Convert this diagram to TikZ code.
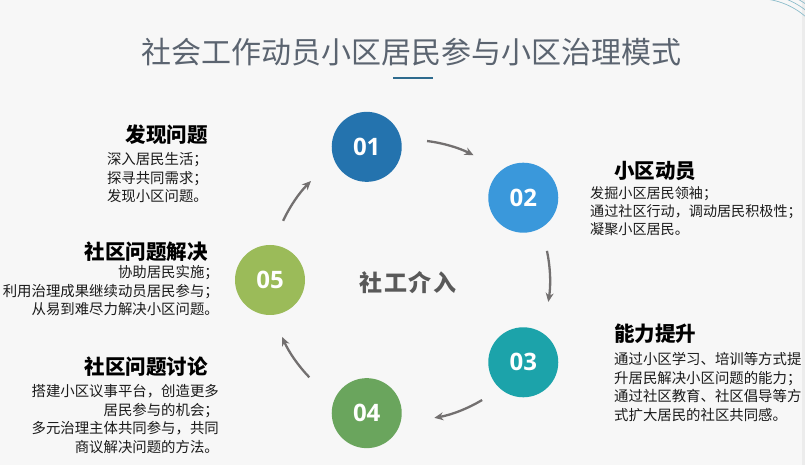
\documentclass[tikz,border=0pt]{standalone}
\usepackage{fontspec}
\setmainfont{Noto Sans CJK SC}
\newfontfamily\numfont{Open Sans}
\usepackage{xcolor}
\usepackage{tikz}
\usetikzlibrary{arrows.meta}
\usetikzlibrary{calc}
\definecolor{bgray}{HTML}{F7F7F7}
\definecolor{edgegray}{HTML}{ECECEC}
\definecolor{titlegray}{HTML}{5B6470}
\definecolor{linkblue}{HTML}{2E6B8E}
\definecolor{arrgray}{HTML}{737070}
\definecolor{midgray}{HTML}{595959}
\definecolor{txtgray}{HTML}{1A1A1A}
\definecolor{decoteal}{HTML}{8DBDCB}
\definecolor{cone}{HTML}{2473AE}
\definecolor{ctwo}{HTML}{3A98DB}
\definecolor{cthree}{HTML}{1CA3AA}
\definecolor{cfour}{HTML}{6AA55D}
\definecolor{cfive}{HTML}{9BBB59}
\tikzstyle{stage}=[circle, inner sep=0pt, minimum size=70pt, text=white,% numbered disc
font=\numfont\bfseries\fontsize{24}{24}\selectfont]
\tikzstyle{head}=[inner sep=0pt, text=black, font=\bfseries\fontsize{20.5}{24}\selectfont]
\tikzstyle{body}=[inner sep=0pt, text=txtgray, font=\fontsize{14.4}{18.5}\selectfont]
\tikzstyle{flow}=[-{Stealth[length=9pt,width=8pt]}, line width=2.3pt, draw=arrgray]

\begin{document}
\begin{tikzpicture}[x=1pt,y=1pt]

\fill[bgray] (0,0) rectangle (805,465);
\fill[edgegray] (802,0) rectangle (805,465);
\useasboundingbox (0,0) rectangle (805,465);

% corner ornament
\begin{scope}
\clip (765,420) rectangle (805,465);
\draw[decoteal, line width=0.7pt] (757,392.5) circle[radius=74];
\draw[decoteal, line width=0.7pt] (757,392.5) circle[radius=79];
\draw[decoteal, line width=0.7pt] (757,392.5) circle[radius=84];
\end{scope}

\node[text=titlegray, font=\fontsize{30}{30}\selectfont] (title) at (411,413) {社会工作动员小区居民参与小区治理模式};
\draw[linkblue, line width=1.5pt] (393,387) -- (433,387);

\coordinate (o) at (410,185);
\node[text=midgray, font=\bfseries\fontsize{23}{23}\selectfont\addfontfeature{LetterSpace=6}] (mid) at (408,182) {社工介入};

\node[stage, fill=cone] (s1) at ($(o)+(108:140)$) {01};
\node[stage, fill=ctwo] (s2) at ($(o)+(36:140)$) {02};
\node[stage, fill=cthree] (s3) at ($(o)+(-36:140)$) {03};
\node[stage, fill=cfour] (s4) at ($(o)+(-108:140)$) {04};
\node[stage, fill=cfive] (s5) at ($(o)+(180:140)$) {05};

\coordinate (a12) at ($(o)+(83:140)$);
\coordinate (a23) at ($(o)+(12:140)$);
\coordinate (a34) at ($(o)+(-59:140)$);
\coordinate (a45) at ($(o)+(224:140)$);
\coordinate (a51) at ($(o)+(155:140)$);

\draw[flow] (a12) arc[start angle=83, end angle=63, radius=140];
\draw[flow] (a23) arc[start angle=12, end angle=-9, radius=140];
\draw[flow] (a34) arc[start angle=-59, end angle=-80, radius=140];
\draw[flow] (a45) arc[start angle=224, end angle=204, radius=140];
\draw[flow] (a51) arc[start angle=155, end angle=135, radius=140];

\node[head, anchor=east] (h1) at (208,330) {发现问题};
\node[body, anchor=east, align=left] (b1) at (208,287) {深入居民生活；\\探寻共同需求；\\发现小区问题。};

\node[head, anchor=west] (h2) at (614,294) {小区动员};
\node[body, anchor=west, align=left, font=\fontsize{14.1}{18}\selectfont] (b2) at (590,254) {发掘小区居民领袖；\\通过社区行动，调动居民积极性；\\凝聚小区居民。};

\node[head, anchor=west] (h3) at (614,131) {能力提升};
\node[body, anchor=west, align=left] (b3) at (614,78) {通过小区学习、培训等方式提\\升居民解决小区问题的能力；\\通过社区教育、社区倡导等方\\式扩大居民的社区共同感。};

\node[head, anchor=east] (h4) at (208,98) {社区问题讨论};
\node[body, anchor=east, align=right] (b4) at (219,46) {搭建小区议事平台，创造更多\\居民参与的机会；\\多元治理主体共同参与，共同\\商议解决问题的方法。};

\node[head, anchor=east] (h5) at (208,213) {社区问题解决};
\node[body, anchor=east, align=right] (b5) at (219,174) {协助居民实施；\\利用治理成果继续动员居民参与；\\从易到难尽力解决小区问题。};

\end{tikzpicture}
\end{document}
